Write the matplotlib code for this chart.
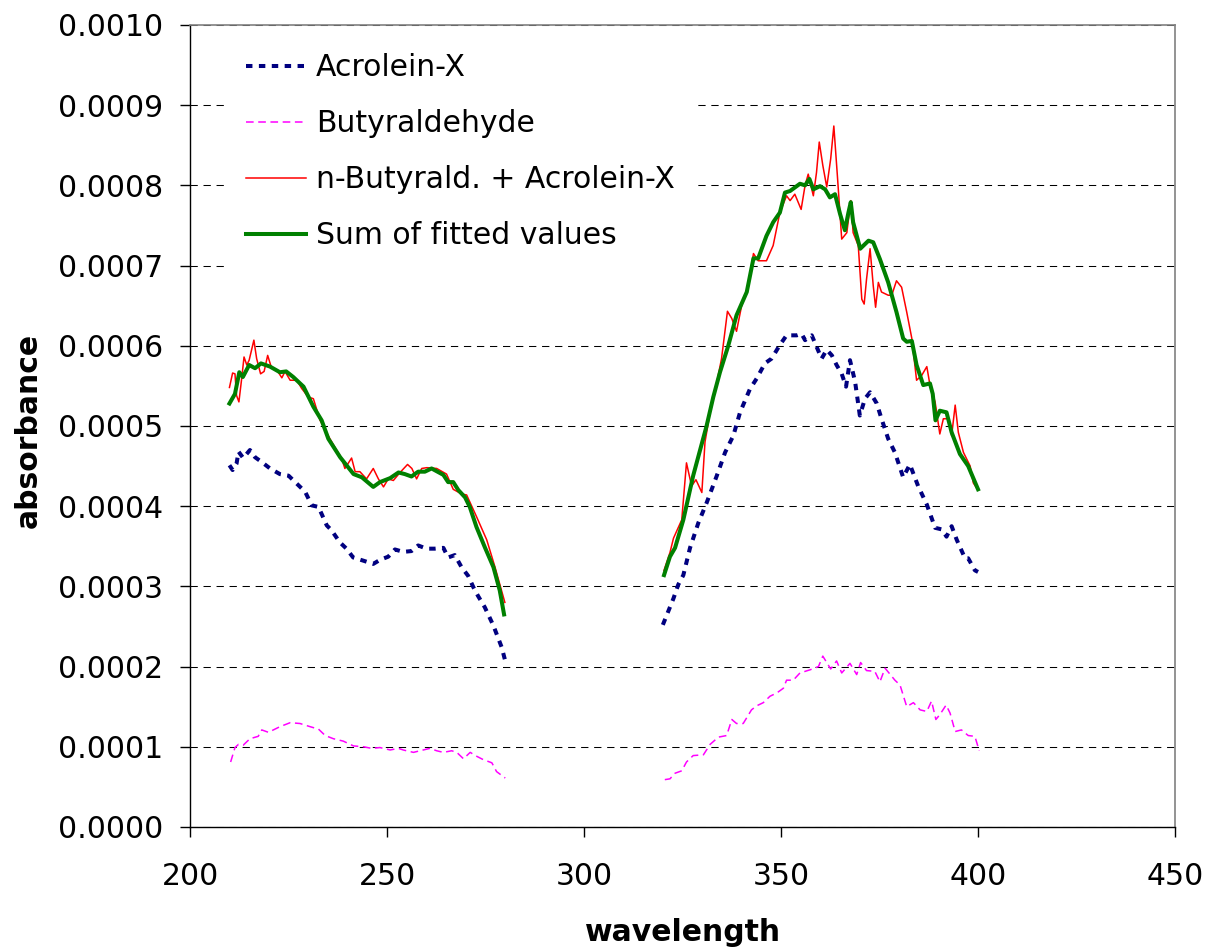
import numpy as np
import matplotlib
matplotlib.use("Agg")
import matplotlib.pyplot as plt
from matplotlib.ticker import FormatStrFormatter, MultipleLocator

plt.rcParams['font.family'] = ['DejaVu Sans']

# Acrolein-X (two measured ranges, nan breaks the line)
acro_wl = [210, 210.8, 211.8, 212.3, 213.5, 215.2, 216.5, 218.2, 220.3, 222.8, 225, 227.1,
           229.2, 230.9, 232.6, 234.7, 235.9, 238, 239.7, 241.4, 244, 246.5, 248.2, 250.3,
           252, 254.1, 256.2, 257.9, 260, 262.1, 264.3, 265.5, 267.2, 268.9, 270.6, 271.9,
           273.1, 274.8, 277, 279.1, 280,
           300,
           320, 322.7, 323.9, 325.2, 326.9, 329, 331.1, 333.7, 335.8, 337.9, 339.6, 342.1,
           343.8, 345.9, 347.6, 349.7, 351.4, 354, 355.2, 356.1, 357.8, 359, 360.3, 361.6,
           362.9, 364.1, 365.4, 366.5, 367.5, 368.8, 370, 371.3, 372.6, 374.3, 375.5, 377.2,
           378.9, 381, 382.7, 384.8, 387, 389.1, 390.8, 392, 393.3, 394.6, 396.7, 397.5,
           399.2, 400]
acro_abs = [0.000451, 0.000445, 0.000453, 0.000468, 0.000460, 0.000470, 0.000461, 0.000455,
            0.000447, 0.000440, 0.000438, 0.000428, 0.000418, 0.000401, 0.000399, 0.000376,
            0.000370, 0.000355, 0.000347, 0.000336, 0.000332, 0.000328, 0.000333, 0.000337,
            0.000346, 0.000343, 0.000344, 0.000351, 0.000347, 0.000347, 0.000348, 0.000336,
            0.000339, 0.000324, 0.000313, 0.000299, 0.000288, 0.000274, 0.000251, 0.000224,
            0.000207,
            np.nan,
            0.000252, 0.000285, 0.000302, 0.000314, 0.000348, 0.000379, 0.000404, 0.000438,
            0.000467, 0.000488, 0.000517, 0.000546, 0.000559, 0.000578, 0.000584, 0.000601,
            0.000613, 0.000613, 0.000615, 0.000607, 0.000613, 0.000599, 0.000584, 0.000595,
            0.000588, 0.000576, 0.000565, 0.000549, 0.000582, 0.000555, 0.000513, 0.000534,
            0.000542, 0.000528, 0.000509, 0.000484, 0.000467, 0.000436, 0.000452, 0.000425,
            0.000402, 0.000373, 0.000371, 0.000362, 0.000375, 0.000358, 0.000335, 0.000335,
            0.000320, 0.000318]

# Butyraldehyde
buty_wl = [210.3, 211.4, 212.3, 213.5, 215.2, 217.3, 218.2, 219.9, 222.8, 225.4, 227.9, 230.5,
           232.6, 234.3, 236.4, 238.9, 241.5, 244, 246.1, 248.2, 250.8, 252.9, 254.1, 256.7,
           259.2, 260.9, 262.6, 264.3, 266.4, 267.7, 269.4, 271.1, 272.8, 274.4, 276.6, 277.8,
           280,
           300,
           320.5, 321.8, 323.1, 324.8, 326, 327.7, 330.3, 332, 334.1, 336.2, 337.5, 338.7,
           340.4, 342.5, 343.8, 345.5, 347.2, 348.9, 350.6, 351.4, 353.1, 354.8, 357.4, 359.5,
           360.6, 362.6, 364.1, 365.4, 367.5, 369.2, 370.2, 371.7, 373.8, 375.1, 376.4, 378.9,
           380.2, 381.9, 383.6, 385.3, 387, 388.2, 389.3, 390.3, 391.9, 392.9, 394.2, 395.8,
           397.5, 399.2, 400.3]
buty_abs = [0.000081, 0.000099, 0.000103, 0.000102, 0.000110, 0.000113, 0.000121, 0.000118,
            0.000125, 0.000130, 0.000129, 0.000125, 0.000122, 0.000114, 0.000110, 0.000107,
            0.000101, 0.000100, 0.000098, 0.000099, 0.000096, 0.000098, 0.000096, 0.000093,
            0.000096, 0.000098, 0.000095, 0.000093, 0.000095, 0.000093, 0.000085, 0.000093,
            0.000088, 0.000084, 0.000080, 0.000069, 0.000061,
            np.nan,
            0.000059, 0.000060, 0.000067, 0.000070, 0.000081, 0.000089, 0.000090, 0.000103,
            0.000112, 0.000114, 0.000134, 0.000129, 0.000129, 0.000146, 0.000151, 0.000155,
            0.000163, 0.000167, 0.000173, 0.000183, 0.000183, 0.000192, 0.000196, 0.000200,
            0.000213, 0.000197, 0.000207, 0.000192, 0.000204, 0.000190, 0.000205, 0.000195,
            0.000194, 0.000181, 0.000198, 0.000183, 0.000177, 0.000150, 0.000155, 0.000146,
            0.000144, 0.000157, 0.000134, 0.000140, 0.000152, 0.000142, 0.000119, 0.000121,
            0.000114, 0.000113, 0.000095]

# n-Butyrald. + Acrolein-X (measured mixture)
mix_wl = [210, 210.8, 211.4, 211.8, 212.4, 213.1, 213.7, 214.4, 215, 216.2, 216.9, 217.9,
          218.8, 219.7, 220.7, 222, 223.3, 224.1, 225.4, 227.1, 228.3, 230, 231.3, 233,
          235.5, 238.5, 239.3, 241, 241.9, 243.1, 244.8, 246.5, 247.8, 249.1, 250.3, 251.6,
          253.3, 255.2, 256.3, 257.5, 258.8, 260.1, 262.6, 265.1, 266.8, 269, 270.2, 272.7,
          275.3, 277.4, 279.9,
          300,
          320.3, 321.8, 322.7, 324.8, 326, 327.3, 328.4, 329.9, 330.7, 332, 333.2, 334.9,
          336.4, 337.5, 338.7, 340, 341.7, 343, 344.2, 346.3, 348, 349.7, 351.4, 352.3,
          353.5, 355.1, 356.1, 356.9, 358.2, 359, 359.7, 360.6, 361.6, 362.6, 363.4, 364.3,
          365, 365.4, 366.7, 367.7, 368.3, 369.6, 370.5, 371.1, 371.7, 372.6, 373.4, 374,
          374.7, 375.5, 377.2, 378.1, 379.3, 380.6, 381.9, 383.2, 384.4, 385.7, 387, 387.8,
          389.1, 390.3, 391.2, 392.5, 393.3, 394.2, 395, 396.3, 398, 398.8, 400]
mix_abs = [0.000548, 0.000566, 0.000565, 0.000538, 0.000530, 0.000559, 0.000586, 0.000576,
           0.000582, 0.000607, 0.000584, 0.000565, 0.000568, 0.000588, 0.000572, 0.000570,
           0.000560, 0.000568, 0.000557, 0.000557, 0.000547, 0.000536, 0.000534, 0.000507,
           0.000484, 0.000459, 0.000447, 0.000460, 0.000443, 0.000443, 0.000434, 0.000447,
           0.000434, 0.000424, 0.000434, 0.000432, 0.000442, 0.000452, 0.000447, 0.000434,
           0.000447, 0.000448, 0.000447, 0.000440, 0.000421, 0.000415, 0.000414, 0.000387,
           0.000358, 0.000324, 0.000280,
           np.nan,
           0.000320, 0.000342, 0.000360, 0.000383, 0.000454, 0.000425, 0.000433, 0.000417,
           0.000480, 0.000517, 0.000542, 0.000584, 0.000643, 0.000634, 0.000618, 0.000650,
           0.000675, 0.000715, 0.000706, 0.000706, 0.000725, 0.000766, 0.000787, 0.000781,
           0.000789, 0.000770, 0.000800, 0.000814, 0.000787, 0.000816, 0.000854, 0.000825,
           0.000798, 0.000833, 0.000874, 0.000812, 0.000762, 0.000733, 0.000741, 0.000781,
           0.000741, 0.000725, 0.000658, 0.000652, 0.000683, 0.000721, 0.000675, 0.000648,
           0.000679, 0.000667, 0.000663, 0.000663, 0.000681, 0.000673, 0.000642, 0.000609,
           0.000557, 0.000563, 0.000574, 0.000551, 0.000530, 0.000490, 0.000509, 0.000509,
           0.000488, 0.000526, 0.000492, 0.000467, 0.000450, 0.000429, 0.000420]

# Sum of fitted values
fit_wl = [210, 211.4, 212.5, 213.4, 215, 216.5, 218, 220.3, 222.8, 224.4, 226.2, 228.8,
          231.3, 233.4, 235.1, 238.1, 241.5, 243.6, 246.5, 248.2, 250.8, 252.9, 254.5, 256.2,
          257.9, 259.6, 261.3, 264.3, 265.5, 266.8, 268.1, 269.8, 271, 272.7, 274.8, 277,
          278.6, 279.7,
          300,
          320.3, 321.8, 323.1, 325.2, 327.7, 331.1, 332.8, 334.5, 336.6, 338.7, 341.3, 343,
          344.2, 346.3, 348, 349.7, 351, 352.3, 354.8, 356.1, 357.2, 358.2, 359.9, 361.2,
          362.4, 363.7, 365, 366.2, 367.1, 367.7, 368.3, 370.1, 372.2, 373.4, 375.1, 377.2,
          379.3, 381, 381.9, 383.2, 384.4, 386.1, 387.8, 388.5, 389.2, 390.3, 392, 393.3,
          395.4, 397.5, 400]
fit_abs = [0.000528, 0.000540, 0.000567, 0.000561, 0.000576, 0.000572, 0.000578, 0.000574,
           0.000567, 0.000568, 0.000561, 0.000549, 0.000524, 0.000507, 0.000484, 0.000461,
           0.000440, 0.000436, 0.000424, 0.000430, 0.000435, 0.000442, 0.000440, 0.000437,
           0.000443, 0.000443, 0.000447, 0.000439, 0.000430, 0.000430, 0.000420, 0.000411,
           0.000399, 0.000374, 0.000349, 0.000324, 0.000295, 0.000265,
           np.nan,
           0.000314, 0.000337, 0.000348, 0.000383, 0.000438, 0.000500, 0.000536, 0.000567,
           0.000600, 0.000638, 0.000667, 0.000709, 0.000709, 0.000737, 0.000754, 0.000766,
           0.000791, 0.000793, 0.000802, 0.000800, 0.000808, 0.000795, 0.000799, 0.000795,
           0.000785, 0.000789, 0.000764, 0.000744, 0.000766, 0.000779, 0.000754, 0.000721,
           0.000731, 0.000729, 0.000708, 0.000679, 0.000642, 0.000609, 0.000605, 0.000606,
           0.000576, 0.000551, 0.000553, 0.000540, 0.000507, 0.000519, 0.000517, 0.000492,
           0.000465, 0.000450, 0.000421]

fig = plt.figure(figsize=(12.09, 9.49), dpi=100)
ax = fig.add_axes([0.1572, 0.1286, 0.8147, 0.8451])

ax.plot(acro_wl, acro_abs, color='#000080', linewidth=2.9, linestyle=(0, (1.6, 1.6)),
        dash_capstyle='butt', label='Acrolein-X')
ax.plot(buty_wl, buty_abs, color='#FF00FF', linewidth=1.1, linestyle=(0, (5, 3)),
        label='Butyraldehyde')
ax.plot(mix_wl, mix_abs, color='#FF0000', linewidth=1.1, label='n-Butyrald. + Acrolein-X')
ax.plot(fit_wl, fit_abs, color='#008000', linewidth=2.9, label='Sum of fitted values')

ax.set_xlim(200, 450)
ax.set_ylim(0, 0.001)
ax.xaxis.set_major_locator(MultipleLocator(50))
ax.yaxis.set_major_locator(MultipleLocator(0.0001))
ax.yaxis.set_major_formatter(FormatStrFormatter('%.4f'))

ax.set_axisbelow(True)
ax.yaxis.grid(True, color='black', linewidth=0.75, linestyle=(0, (7, 5.5)))

for side in ['top', 'right']:
    ax.spines[side].set_color('#808080')
    ax.spines[side].set_linewidth(1.2)
for side in ['left', 'bottom']:
    ax.spines[side].set_color('black')
    ax.spines[side].set_linewidth(1.0)

ax.tick_params(axis='both', direction='out', length=7.5, width=1, labelsize=21.5,
               colors='black')
ax.tick_params(axis='y', pad=12)
ax.tick_params(axis='x', pad=18)

ax.set_xlabel('wavelength', fontsize=21.5, fontweight='bold')
ax.set_ylabel('absorbance', fontsize=21.5, fontweight='bold')
ax.xaxis.set_label_coords(0.5, -0.114)
ax.yaxis.set_label_coords(-0.150, 0.495)

leg = ax.legend(loc='upper left', bbox_to_anchor=(0.034, 0.993), borderaxespad=0,
                fontsize=21.5, frameon=True, facecolor='white', edgecolor='none',
                framealpha=1, fancybox=False, handlelength=2.0, handletextpad=0.35,
                labelspacing=0.91, borderpad=0.75)

plt.savefig('out.png', dpi=100)
